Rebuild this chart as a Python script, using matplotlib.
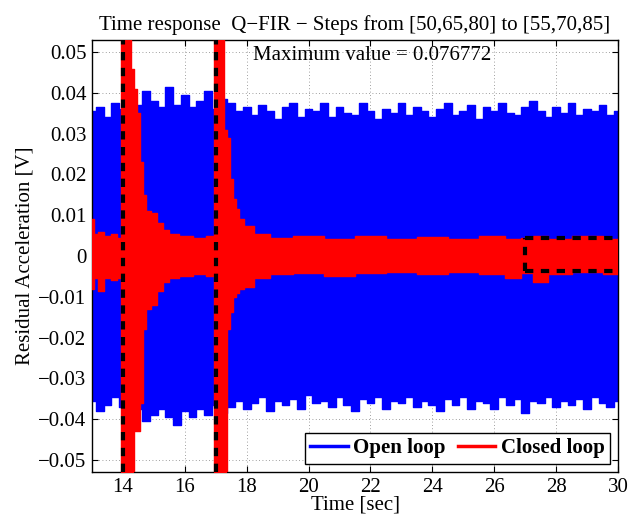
import matplotlib.pyplot as plt
import numpy as np

plt.rcParams['font.family'] = ['Liberation Serif', 'DejaVu Serif']

# open loop envelope, one value every 0.25 s from 13 to 30
t_open = np.arange(13.0, 30.001, 0.25)
open_hi = [0.0355, 0.0365, 0.034, 0.0375, 0.036, 0.0395, 0.037, 0.0405, 0.038, 0.0365,
           0.0415, 0.037, 0.0395, 0.0365, 0.038, 0.0405, 0.036, 0.0385, 0.0375, 0.0355,
           0.0365, 0.0345, 0.037, 0.0355, 0.0335, 0.0365, 0.0375, 0.034, 0.036, 0.0355,
           0.0375, 0.034, 0.0365, 0.035, 0.0345, 0.0375, 0.0355, 0.0335, 0.036, 0.035,
           0.0375, 0.0345, 0.0365, 0.0355, 0.034, 0.036, 0.0375, 0.0345, 0.0355, 0.037,
           0.0335, 0.0365, 0.0355, 0.0375, 0.035, 0.0345, 0.0365, 0.038, 0.0355, 0.034,
           0.0365, 0.035, 0.0375, 0.0345, 0.036, 0.0355, 0.037, 0.0345, 0.0355]
open_lo = [-0.0355, -0.038, -0.0365, -0.0345, -0.037, -0.0385, -0.0375, -0.0405, -0.039, -0.0375,
           -0.0395, -0.0415, -0.038, -0.0395, -0.0375, -0.039, -0.0365, -0.0385, -0.037, -0.0355,
           -0.0375, -0.036, -0.0345, -0.038, -0.0355, -0.0365, -0.035, -0.0375, -0.034, -0.036,
           -0.0355, -0.037, -0.0345, -0.0365, -0.038, -0.035, -0.036, -0.0345, -0.0375, -0.0355,
           -0.036, -0.0345, -0.037, -0.0355, -0.0365, -0.038, -0.035, -0.0365, -0.0345, -0.0375,
           -0.0355, -0.036, -0.0375, -0.0345, -0.0365, -0.035, -0.0385, -0.0355, -0.036, -0.0345,
           -0.037, -0.0355, -0.0365, -0.035, -0.0375, -0.0345, -0.036, -0.037, -0.0355]

# closed loop envelope (irregular times, denser around the steps)
t_closed = [13.0, 13.1, 13.3, 13.5, 13.7, 13.9, 14.0, 14.1, 14.2, 14.3, 14.4, 14.5,
            14.6, 14.7, 14.8, 15.0, 15.2, 15.4, 15.6, 16.0, 16.5, 16.9, 17.0, 17.1,
            17.2, 17.3, 17.4, 17.5, 17.6, 17.7, 17.8, 18.0, 18.5, 19.0, 20.0, 21.0,
            22.0, 23.0, 24.0, 25.0, 26.0, 26.7, 27.0, 27.5, 28.0, 29.0, 30.0]
closed_hi = [0.009, 0.0055, 0.006, 0.005, 0.0055, 0.0045, 0.060, 0.060, 0.060, 0.046, 0.041, 0.035,
             0.023, 0.015, 0.011, 0.0105, 0.008, 0.0065, 0.0055, 0.005, 0.0045, 0.005, 0.060, 0.060,
             0.060, 0.031, 0.029, 0.019, 0.014, 0.0115, 0.009, 0.0073, 0.0055, 0.0045, 0.005, 0.0042,
             0.0048, 0.0042, 0.0046, 0.0042, 0.0048, 0.0042, 0.0045, 0.005, 0.0042, 0.0048, 0.0042]
closed_lo = [-0.008, -0.0055, -0.0085, -0.0055, -0.006, -0.0055, -0.060, -0.060, -0.060, -0.060, -0.043, -0.043,
             -0.036, -0.018, -0.013, -0.012, -0.0085, -0.0065, -0.0055, -0.005, -0.0045, -0.005, -0.060, -0.060,
             -0.060, -0.060, -0.018, -0.0137, -0.010, -0.009, -0.008, -0.0075, -0.0055, -0.0045, -0.0042, -0.0048,
             -0.0042, -0.004, -0.0045, -0.004, -0.0044, -0.0054, -0.0042, -0.0063, -0.0044, -0.004, -0.0044]

step_times = [14.0, 17.0]
box_x = [27.0, 30.0]
box_y = [-0.0037, 0.0045]
max_value = 0.076772

fig = plt.figure(figsize=(6.31, 5.23), dpi=100)
ax = fig.add_axes([0.1458, 0.0975, 0.8336, 0.826])

blue = '#0000ff'
red = '#ff0000'

ax.fill_between(t_open, open_lo, open_hi, step='mid', color=blue, lw=0, zorder=2)
l1, = ax.plot(t_open, open_hi, drawstyle='steps-mid', color=blue, lw=1, zorder=2, label='Open loop')
ax.plot(t_open, open_lo, drawstyle='steps-mid', color=blue, lw=1, zorder=2)

ax.fill_between(t_closed, closed_lo, closed_hi, step='mid', color=red, lw=0, zorder=3)
l2, = ax.plot(t_closed, closed_hi, drawstyle='steps-mid', color=red, lw=1, zorder=3, label='Closed loop')
ax.plot(t_closed, closed_lo, drawstyle='steps-mid', color=red, lw=1, zorder=3)

for ts in step_times:
    ax.axvline(ts, color='k', ls=(0, (2, 1.8)), lw=3, zorder=4)
for yb in box_y:
    ax.plot(box_x, [yb, yb], color='k', ls=(0, (2, 1.8)), lw=3, zorder=4)
ax.plot([box_x[0], box_x[0]], box_y, color='k', ls=(0, (2, 1.8)), lw=3, zorder=4)

ax.set_xlim(13, 30)
ax.set_ylim(-0.053, 0.053)
ax.set_xticks(np.arange(14, 31, 2))
yt = np.round(np.arange(-0.05, 0.0501, 0.01), 2)
ax.set_yticks(yt)
ax.set_yticklabels(['0' if v == 0 else ('%g' % v).replace('-', '\u2212') for v in yt])
ax.tick_params(direction='in', top=True, right=True, labelsize=15, length=4, width=0.8, pad=4)
ax.grid(True, ls=(0, (1, 3)), color='#808080', lw=0.6)
ax.set_axisbelow(True)
for s in ax.spines.values():
    s.set_linewidth(1.0)

ax.set_xlabel('Time [sec]', fontsize=15, labelpad=-1)
ax.set_ylabel('Residual Acceleration [V]', fontsize=15, labelpad=3)
ax.set_title('Time response  Q\u2212FIR \u2212 Steps from [50,65,80] to [55,70,85]', fontsize=15, pad=7)
ax.text(18.2, 0.0492, 'Maximum value = %g' % max_value, ha='left', va='center', fontsize=15)

leg = ax.legend(handles=[l1, l2], loc='lower right', ncol=2, fancybox=False, framealpha=1,
                edgecolor='k', prop={'weight': 'bold', 'size': 15}, handlelength=1.8,
                columnspacing=0.6, handletextpad=0.25, borderaxespad=0.4, borderpad=0.25)
leg.get_frame().set_linewidth(1.0)
for h in leg.legend_handles:
    h.set_linewidth(2.5)

fig.savefig('out.png', dpi=100)
